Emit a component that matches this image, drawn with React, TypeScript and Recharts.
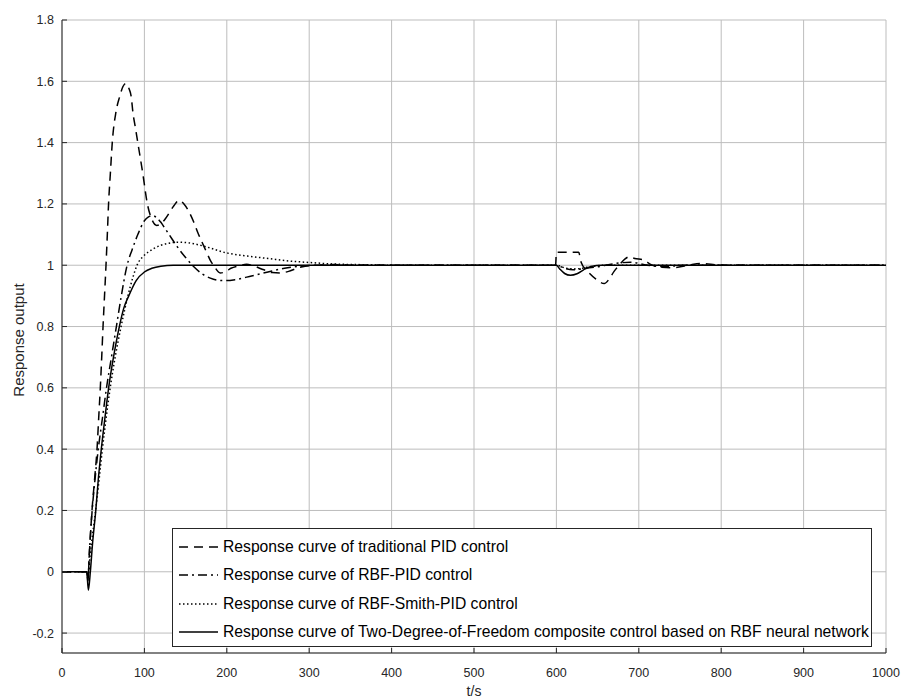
import React from 'react';
import { LineChart, Line, XAxis, YAxis, CartesianGrid, Legend, Label } from 'recharts';

// time (s) / response value pairs
const traditionalPid: [number, number][] = [
  [0, 0], [30, 0], [31.5, -0.03], [33, 0.05], [36.4, 0.2], [39.5, 0.3], [42.5, 0.4], [44.5, 0.5], [46.5, 0.6],
  [48.2, 0.7], [49.8, 0.8], [51.6, 0.9], [53.4, 1.0], [55, 1.1], [56.5, 1.2], [58.7, 1.3], [61, 1.4], [65.5, 1.5],
  [70, 1.55], [74, 1.583], [77.5, 1.593], [81, 1.578], [84, 1.55], [86, 1.5], [89, 1.45], [92, 1.4], [98, 1.3],
  [103.6, 1.2], [109, 1.15], [115, 1.13], [120, 1.135], [125, 1.15], [130, 1.17], [136, 1.195], [142, 1.212],
  [148, 1.2], [155, 1.17], [160, 1.14], [165, 1.105], [170, 1.075], [175, 1.045], [180, 1.016], [185, 0.995],
  [192, 0.975], [198, 0.978], [205, 0.99], [215, 0.998], [224, 1.003], [232, 0.998], [245, 0.985], [255, 0.976],
  [265, 0.975], [275, 0.98], [285, 0.99], [295, 0.997], [310, 1.0], [330, 1.002], [360, 1.0], [599, 1.0],
  [600, 1.042], [627, 1.042], [630, 1.01], [638, 0.98], [648, 0.955], [658, 0.94], [664, 0.955], [670, 0.98],
  [676, 1.0], [683, 1.02], [689, 1.028], [695, 1.022], [705, 1.018], [715, 1.002], [728, 0.993], [742, 0.992],
  [760, 1.0], [775, 1.006], [790, 1.002], [810, 1.0], [1000, 1.0],
];

const rbfPid: [number, number][] = [
  [0, 0], [30, 0], [31.5, -0.03], [33, 0.05], [36.6, 0.2], [40, 0.3], [44, 0.4], [49, 0.5], [54, 0.6], [60, 0.7],
  [66, 0.8], [72, 0.9], [79, 1.0], [85, 1.05], [92, 1.1], [100, 1.145], [105, 1.158], [110, 1.162], [115, 1.155],
  [120, 1.14], [125, 1.12], [130, 1.1], [140, 1.06], [150, 1.025], [160, 0.995], [170, 0.972], [180, 0.958],
  [190, 0.951], [198, 0.95], [210, 0.953], [230, 0.965], [250, 0.978], [270, 0.99], [290, 0.997], [310, 1.0],
  [600, 1.0], [610, 0.99], [620, 0.985], [635, 0.99], [650, 0.995], [670, 1.005], [690, 1.01], [710, 1.0],
  [730, 0.996], [760, 1.0], [1000, 1.0],
];

const rbfSmithPid: [number, number][] = [
  [0, 0], [30, 0], [31.5, -0.02], [34, 0.05], [40.8, 0.2], [45, 0.3], [49, 0.4], [53.5, 0.5], [58.5, 0.6],
  [64.5, 0.7], [71.7, 0.8], [80, 0.9], [86, 0.96], [91, 1.0], [99, 1.03], [110, 1.052], [120, 1.065], [130, 1.072],
  [140, 1.075], [150, 1.074], [160, 1.07], [175, 1.06], [200, 1.04], [225, 1.03], [250, 1.022], [275, 1.014],
  [300, 1.009], [330, 1.004], [360, 1.002], [400, 1.0], [600, 1.0], [612, 0.99], [625, 0.988], [640, 0.995],
  [660, 1.0], [1000, 1.0],
];

const twoDofRbf: [number, number][] = [
  [0, 0], [30, 0], [32, -0.06], [34.4, 0], [37, 0.09], [41, 0.2], [44, 0.3], [47.7, 0.4], [52, 0.5], [56.6, 0.6],
  [62.5, 0.7], [69.6, 0.8], [75, 0.86], [81, 0.9], [90, 0.95], [100, 0.978], [109, 0.99], [120, 0.997], [135, 1.0],
  [600, 1.0], [604, 0.988], [610, 0.973], [617, 0.967], [625, 0.972], [633, 0.985], [642, 0.996], [655, 1.0],
  [1000, 1.0],
];

const xTicks = [0, 100, 200, 300, 400, 500, 600, 700, 800, 900, 1000];
const yTicks = [-0.2, 0, 0.2, 0.4, 0.6, 0.8, 1, 1.2, 1.4, 1.6, 1.8];

const seriesNames = [
  'Response curve of traditional PID control',
  'Response curve of RBF-PID control',
  'Response curve of RBF-Smith-PID control',
  'Response curve of Two-Degree-of-Freedom composite control based on RBF neural network',
];

const toRows = (pts: [number, number][]) => pts.map(([t, y]) => ({ t, y }));

const series = [
  { name: seriesNames[0], data: toRows(traditionalPid), dash: '9 6' },
  { name: seriesNames[1], data: toRows(rbfPid), dash: '9 4 2 4' },
  { name: seriesNames[2], data: toRows(rbfSmithPid), dash: '1.5 2.5' },
  { name: seriesNames[3], data: toRows(twoDofRbf), dash: undefined as string | undefined },
];

const FONT = '"Liberation Sans", Arial, Helvetica, sans-serif';
const AXIS = '#262626';

const LegendBox = () => (
  <div
    style={{
      width: 700,
      height: 119,
      border: '1px solid #262626',
      background: '#fff',
      boxSizing: 'border-box',
      position: 'relative',
      fontFamily: FONT,
    }}
  >
    {series.map((s, i) => (
      <div
        key={i}
        style={{
          position: 'absolute',
          left: 5,
          top: 18 + i * 28.3 - 10,
          height: 20,
          display: 'flex',
          alignItems: 'center',
          whiteSpace: 'nowrap',
        }}
      >
        <svg width={40} height={20} style={{ display: 'block' }}>
          <line x1={1} y1={10} x2={40} y2={10} stroke="#000" strokeWidth={1.5} strokeDasharray={s.dash} />
        </svg>
        <span style={{ marginLeft: 5, fontSize: 15.7, color: '#000' }}>{s.name}</span>
      </div>
    ))}
  </div>
);

const fmt = (v: number) => String(Math.round(v * 10) / 10);

export default function App() {
  return (
    <div style={{ position: 'absolute', left: 0, top: 0, fontFamily: FONT }}>
      <LineChart width={902} height={700} margin={{ top: 20, right: 16, bottom: 0, left: 0 }}>
        <CartesianGrid xAxisId="b" yAxisId="l" stroke="#bdbdbd" strokeWidth={1} />
        <XAxis
          xAxisId="b"
          type="number"
          dataKey="t"
          domain={[0, 1000]}
          ticks={xTicks}
          allowDataOverflow
          height={47}
          tickSize={-5}
          tickMargin={20}
          stroke={AXIS}
          tick={{ fontSize: 12.5, fill: AXIS, fontFamily: FONT }}
        >
          <Label
            content={() => (
              <text x={474} y={696} textAnchor="middle" fontSize={14} fill={AXIS} fontFamily={FONT}>
                t/s
              </text>
            )}
          />
        </XAxis>
        <XAxis
          xAxisId="top"
          orientation="top"
          type="number"
          dataKey="t"
          domain={[0, 1000]}
          ticks={xTicks}
          allowDataOverflow
          height={0}
          tickSize={-5}
          tick={false}
          stroke={AXIS}
        />
        <YAxis
          yAxisId="l"
          type="number"
          domain={[-0.265, 1.8]}
          ticks={yTicks}
          allowDataOverflow
          width={62}
          tickSize={-5}
          tickMargin={13}
          tickFormatter={fmt}
          stroke={AXIS}
          tick={{ fontSize: 12.5, fill: AXIS, fontFamily: FONT }}
        >
          <Label
            content={() => (
              <text
                x={0}
                y={0}
                transform="translate(24 340) rotate(-90)"
                textAnchor="middle"
                fontSize={15}
                fill={AXIS}
                fontFamily={FONT}
              >
                Response output
              </text>
            )}
          />
        </YAxis>
        <YAxis
          yAxisId="r"
          orientation="right"
          type="number"
          domain={[-0.265, 1.8]}
          ticks={yTicks}
          allowDataOverflow
          width={0}
          tickSize={-5}
          tick={false}
          stroke={AXIS}
        />
        {series.map((s, i) => (
          <Line
            key={i}
            xAxisId="b"
            yAxisId="l"
            data={s.data}
            dataKey="y"
            name={s.name}
            type="monotone"
            stroke="#000"
            strokeWidth={1.5}
            strokeDasharray={s.dash}
            dot={false}
            activeDot={false}
            isAnimationActive={false}
          />
        ))}
        <Legend
          layout="vertical"
          align="center"
          verticalAlign="middle"
          content={() => <LegendBox />}
          wrapperStyle={{ position: 'absolute', left: 172, top: 528, width: 700, height: 119 }}
        />
      </LineChart>
    </div>
  );
}
